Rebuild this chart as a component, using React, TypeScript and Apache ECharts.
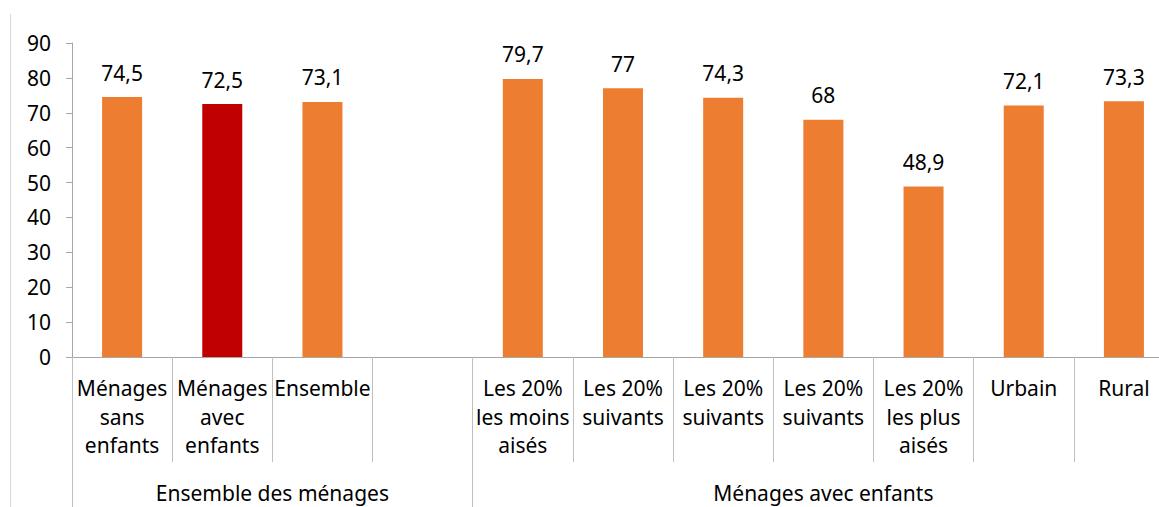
import React, { useEffect, useRef } from "react";
import * as echarts from "echarts";

const categories = [
  "Ménages\nsans\nenfants",
  "Ménages\navec\nenfants",
  "Ensemble",
  "",
  "Les 20%\nles moins\naisés",
  "Les 20%\nsuivants",
  "Les 20%\nsuivants",
  "Les 20%\nsuivants",
  "Les 20%\nles plus\naisés",
  "Urbain",
  "Rural",
];
const values: (number | null)[] = [74.5, 72.5, 73.1, null, 79.7, 77, 74.3, 68, 48.9, 72.1, 73.3];
const highlightIndex = 1;
const groupNames = ["Ensemble des ménages", "Ménages avec enfants"];
const groupStarts = [0, 4];
const groupEnds = [4, 11];
const yTicks = [0, 10, 20, 30, 40, 50, 60, 70, 80, 90];

const FONT = "'Noto Sans', sans-serif";
const FS = 21;
const ORANGE = "#ED7D31";
const RED = "#C00000";
const AXIS = "#A6A6A6";
const SEP = "#BFBFBF";

export default function App() {
  const ref = useRef<HTMLDivElement>(null);
  useEffect(() => {
    if (!ref.current) return;
    const chart = echarts.init(ref.current, null, { renderer: "svg" });
    const groupCenters = groupStarts.map((s, i) => (s + groupEnds[i]) / 2);
    const groupBounds = Array.from(new Set([...groupStarts, ...groupEnds]));
    chart.setOption({
      animation: false,
      backgroundColor: "#fff",
      textStyle: { fontFamily: FONT },
      grid: { left: 72, top: 43, width: 1102, height: 314, containLabel: false, outerBoundsMode: "none" },
      xAxis: [
        {
          type: "category",
          data: categories,
          position: "bottom",
          boundaryGap: true,
          axisLine: { show: true, lineStyle: { color: AXIS, width: 1 } },
          axisTick: { show: true, interval: 0, length: 105, lineStyle: { color: SEP } },
          axisLabel: {
            interval: 0,
            color: "#000",
            fontSize: FS,
            fontFamily: FONT,
            lineHeight: 28.5,
            margin: 17,
            hideOverlap: false,
          },
        },
        {
          type: "value",
          min: 0,
          max: categories.length,
          position: "bottom",
          offset: 0,
          axisLine: { show: false },
          splitLine: { show: false },
          axisTick: { show: true, customValues: groupBounds, length: 160, lineStyle: { color: SEP } },
          axisLabel: {
            customValues: groupCenters,
            color: "#000",
            fontSize: FS,
            fontFamily: FONT,
            margin: 125,
            formatter: (v: number) => {
              const i = groupCenters.indexOf(v);
              return i >= 0 ? groupNames[i] : "";
            },
          },
        },
      ],
      yAxis: {
        type: "value",
        min: yTicks[0],
        max: yTicks[yTicks.length - 1],
        interval: 10,
        axisLine: { show: true, lineStyle: { color: AXIS } },
        axisTick: { show: true, length: 6, lineStyle: { color: AXIS } },
        splitLine: { show: false },
        axisLabel: { color: "#000", fontSize: FS, fontFamily: FONT, margin: 21 },
      },
      graphic: [
        {
          type: "line",
          shape: { x1: 10.5, y1: 14, x2: 10.5, y2: 507 },
          style: { stroke: "#D9D9D9", lineWidth: 1 },
          silent: true,
        },
      ],
      series: [
        {
          type: "bar",
          xAxisIndex: 0,
          barWidth: 40,
          data: values.map((v, i) =>
            v === null
              ? "-"
              : { value: v, itemStyle: { color: i === highlightIndex ? RED : ORANGE } }
          ),
          label: {
            show: true,
            position: "top",
            distance: 14,
            color: "#000",
            fontSize: FS,
            fontFamily: FONT,
            formatter: (p: any) => String(p.value).replace(".", ","),
          },
        },
      ],
    });
    return () => chart.dispose();
  }, []);
  return (
    <div
      ref={ref}
      style={{ position: "fixed", left: 0, top: 0, width: 1159, height: 507, background: "#fff" }}
    />
  );
}
